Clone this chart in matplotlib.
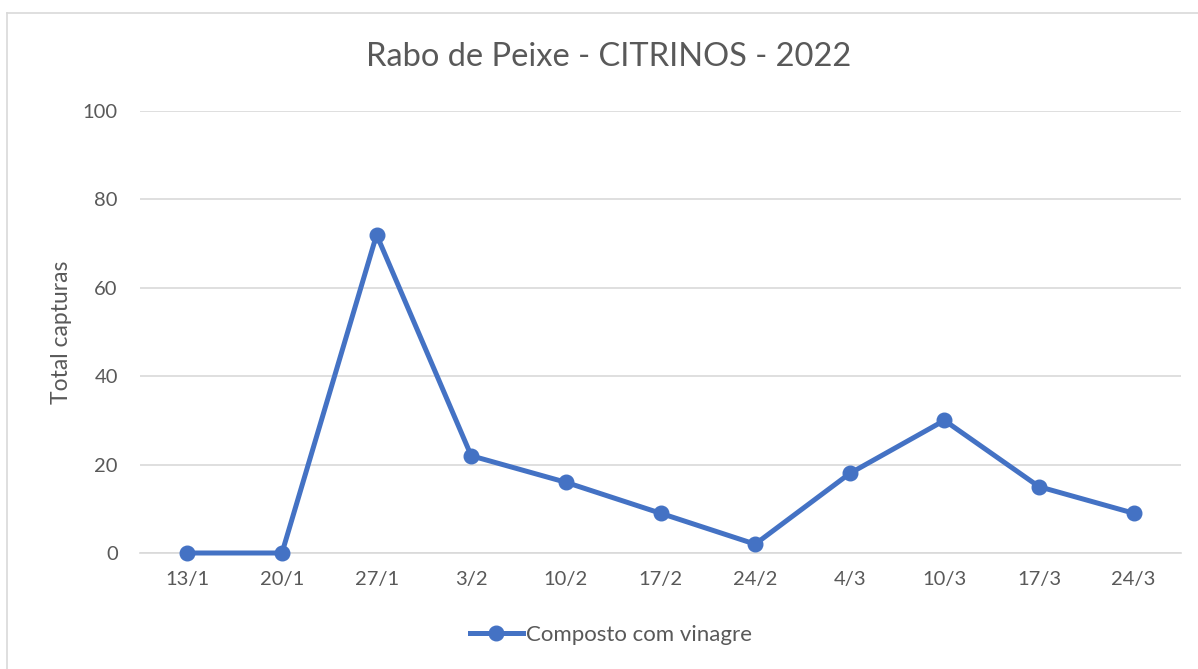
import matplotlib.pyplot as plt
from matplotlib.lines import Line2D

dates = ['13/1', '20/1', '27/1', '3/2', '10/2', '17/2', '24/2', '4/3', '10/3', '17/3', '24/3']
capturas = [0, 0, 72, 22, 16, 9, 2, 18, 30, 15, 9]

BLUE = '#4472C4'
TXT = '#595959'
GRID = '#D9D9D9'

plt.rcParams['font.family'] = ['Lato', 'DejaVu Sans']

fig = plt.figure(figsize=(11.98, 6.69), dpi=100)
ax = fig.add_axes([140 / 1198, 1 - 553 / 669, (1181 - 140) / 1198, (553 - 111) / 669])

x = range(len(dates))
ax.plot(x, capturas, color=BLUE, lw=3.6, marker='o', ms=10.5, clip_on=False, zorder=3)

ax.set_xlim(-0.5, len(dates) - 0.5)
ax.set_ylim(0, 100)
ax.set_yticks(range(0, 101, 20))
ax.set_xticks(list(x))
ax.set_xticklabels(dates)
ax.grid(axis='y', color=GRID, lw=1.2)
ax.set_axisbelow(True)
for s in ['top', 'right', 'left']:
    ax.spines[s].set_visible(False)
ax.spines['bottom'].set_color(GRID)
ax.spines['bottom'].set_linewidth(1.2)
ax.tick_params(length=0, labelsize=14.5, colors=TXT, pad=13)
ax.tick_params(axis='y', pad=16)
ax.set_ylabel('Total capturas', fontsize=16.5, color=TXT, labelpad=8)

fig.text(609 / 1198, 1 - 57 / 669, 'Rabo de Peixe - CITRINOS - 2022', ha='center', va='center',
         fontsize=23.5, color=TXT)

h = Line2D([], [], color=BLUE, lw=3.6, marker='o', ms=10.5)
fig.legend([h], ['Composto com vinagre'], loc='center', bbox_to_anchor=(611 / 1198, 1 - 635 / 669),
           frameon=False, fontsize=16, labelcolor=TXT, handlelength=2.4, handletextpad=0.15)

# chart area border (left and top edges visible)
fig.add_artist(Line2D([7 / 1198, 7 / 1198], [0, 1 - 13 / 669], color=GRID, lw=1.2))
fig.add_artist(Line2D([7 / 1198, 1], [1 - 13 / 669, 1 - 13 / 669], color=GRID, lw=1.2))

fig.savefig('out.png', dpi=100, facecolor='white')
